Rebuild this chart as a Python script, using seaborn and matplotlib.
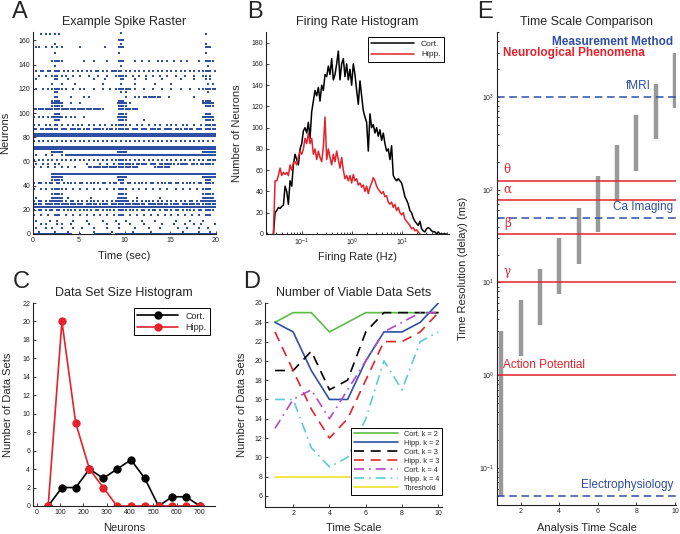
import numpy as np
import matplotlib
matplotlib.use("Agg")
import matplotlib.pyplot as plt
import seaborn as sns
from matplotlib.ticker import LogLocator, LogFormatterMathtext, NullFormatter, FixedLocator

# ---------------- data ----------------
# A: spike raster, one pattern per neuron; each char is a time bin over 0-20 s
# '.' = no spike, 'o' = one spike, '#' = two spikes
raster_rows = [
    (166, "...................." "..................o." "...................." "...................."),
    (165, "...o.o.o.o.o........" "...................." "...................." "...............o...."),
    (160, "...................." ".................ooo" "...................." "...................."),
    (157, ".........o.........." "..................o." "...................." "...............o...."),
    (155, ".oo..o..o.o.o......." "o..........o.....ooo" "...................." "...............ooo.."),
    (150, ".........o.........." ".................o.." "...................." "...............o...."),
    (143, "........ooooo......." "..o...o.....o....ooo" "....o..o..o...o.o.o." ".o..o..o....o..oooo."),
    (139, ".........o.........." "..................o." "...................." "................o..."),
    (135, ".o.oo.oo.ooo.o.o.o.o" ".o.o.o.oo.o.o.ooooo." "o.o.o.o.o.o.o.o.o.o." "o.o.o.o.o.o.o.oooo.o"),
    (131, "..o..o..ooo.o.o..o.." "o...o...o...o...oooo" "o..o..o..o..o..o..o." "..o...o...o...oo.o.."),
    (128, ".o.......oo....o...." "......o....o......oo" "....o....o......o..." "....o.....o....o.o.."),
    (124, "........o...o.....o." "..........o.......o." "....o........o......" "o...............o.o."),
    (120, ".o..o.o.ooooo.o..o.." "o.o...o...o..o..oooo" "ooo.o...o...o...o..." "o...o...o...o.oooooo"),
    (117, ".........oo........." "..................o." "o..................." "................o..."),
    (113, ".........oo.....o..." "..o.o..............." "o...o.o.oooooooo...o" "..........o........."),
    (110, "........oooo........" ".................ooo" "...................." "..............oooo.."),
    (108, "........#####...o..." "o................###" "#.o................." "..............#####."),
    (106, "........ooooo......." ".................ooo" "o..................." "...............oooo."),
    (103, "oooooooooooooooooooo" "ooooooooooo......ooo" "oooooo.............." "...................."),
    (99, ".........ooo........" ".................ooo" "o..................." "...............ooo.."),
    (97, "o.o.o.o.#####.o.o.o." "..o..............###" "#..................." "..............#####."),
    (94, ".........ooo........" ".................ooo" "o.......o..........." "...............oooo."),
    (90, "o.o..o.o.oo.o..o.o.o" ".o..o.o..o.o..o.oooo" "o.o..o.o..o..o.o..o." "o.o..o.o..o..o.ooooo"),
    (87, "oo.oooooooo.ooo.oooo" "o.ooo.ooooo.ooo.oooo" "oo.ooo.ooo.ooooo.ooo" "o.ooo.oooo.ooo.ooooo"),
    (83, "####################" "####################" "####################" "####################"),
    (82, "####################" "####################" "####################" "####################"),
    (81, "####################" "####################" "####################" "####################"),
    (77, "o.o.o.o.o.o.o.o.o.o." "o.o.o.o.o.o.o.o.o.o." "o.o.o.o.o.o.o.o.o.o." "o.o.o.o.o.o.o.o.o.o."),
    (72, "####################" "####################" "####################" "####################"),
    (71, "####################" "####################" "####################" "####################"),
    (70, "####################" "####################" "####################" "####################"),
    (68, "........#####......." ".................###" "#..................." "..............######"),
    (65, ".o...o..o...o.######" "####################" "####################" "####################"),
    (61, "o.o.o.o.o.o.o.o.o.o." "o.o.o.o.o.o.o.o.oooo" "o.o.o.o.o.o.o.o.o.o." "o.o.o.o.o.o.o.o.oooo"),
    (58, ".o..o.o..o.o........" "...o.....o..o..o.ooo" "oooo.ooooo.ooo.ooooo" "oo.ooooo.ooo.oooooo."),
    (55, "o..o..o..o..o..o..o." "....oooooooooooooooo" "oooooo.......ooooooo" "...................."),
    (50, "........############" "####################" "####################" "####################"),
    (47, "........#####......." ".................###" "#..................." "..............######"),
    (45, "........ooooo......." ".................ooo" "...................." "...............ooo.."),
    (42, "o.oo.o.oo.oo.o.oo.o." "oo.o.oo.o.oo.o.oo.oo" ".oo.o.oo.o.oo.o.oo.o" "o.oo.o.oo.o.oo.oooo."),
    (37, "o..o.o..ooooo.o..o.." "o..o..o..o..o..o.ooo" "o..o..o..o..o..o..o." "..o..o..o..o..oooo.."),
    (33, "........ooooo......." ".................ooo" "o..................." "..............ooooo."),
    (30, ".o......#####..o...." ".....o...........###" "#....o.........o...." "..............#####."),
    (27, "o.oo.o.o#####.o.oo.o" ".o.o.oo.o.o.o.o.o###" "#o.o.o.o.oo.o.o.o.o." "o.o.o.o.oo.o.o######"),
    (25, "oooo.ooooooooooooooo" "oo.ooooo.oooo.oooooo" "ooooooooo.ooooooooo." "oooo.oooooooo.oooooo"),
    (22, "######o#############" "#o####o####o####o###" "####o####o####o#####" "##o####o####o#######"),
    (20, "o.oo.o.oo.oo.o.oo.o." "o.oo.o.oo.o.oo.o.ooo" "o.oo.o.oo.o.oo.o.oo." "o.oo.o.oo.o.oo.oooo."),
    (16, "o..o..o..ooo..o..o.." "o..o..o..o..o..o.ooo" "..o..o..o..o..o..o.." "o..o..o..o..o..ooo.."),
    (11, ".o.....o..o......o.." "...o......o.....o..." "o......o.....o......" "..o.....o.....o....."),
    (8, "...o.o....o.o...o..." "....o.......o....o.." "..o.....o.......o..." ".o....o...o..o.....o"),
    (5, ".o...o..o...o....o.." ".o....o.....o....o.." "....o.....o....o...." "...o...o....o...o..."),
    (2, "..o......o.....o...." "......o.......o....." "...o.......o........" ".....o......o....o.."),
    (0, "#################..." "o......#######..####" "####################" "####################"),
]

# B: firing rate histogram (log-spaced bins)
rate_log_start, rate_log_step = -1.573, 0.0333
cort_rate_counts = [0, 20, 22, 25, 24, 26, 27, 45, 40, 28, 50, 45, 65, 75, 70, 65, 80, 85, 97, 100,
                    95, 105, 90, 115, 125, 135, 130, 138, 125, 140, 135, 150, 148, 158, 150, 165, 145,
                    150, 160, 172, 145, 160, 165, 148, 160, 145, 155, 140, 160, 150, 135, 122, 144,
                    130, 116, 110, 105, 78, 113, 100, 103, 95, 100, 92, 98, 88, 95, 85, 78, 80, 70,
                    83, 55, 52, 50, 52, 50, 48, 42, 35, 32, 28, 22, 20, 15, 12, 10, 8, 12, 5, 3, 2,
                    5, 6, 5, 3, 2, 2, 0, 2, 0, 0, 0, 0, 0]
hipp_rate_counts = [0, 50, 50, 55, 62, 55, 58, 56, 58, 55, 65, 60, 67, 68, 65, 72, 78, 75, 80, 90,
                    85, 95, 85, 90, 75, 80, 70, 78, 72, 68, 82, 110, 70, 80, 72, 65, 75, 68, 78, 70,
                    62, 72, 60, 52, 55, 50, 55, 48, 56, 50, 52, 46, 48, 44, 46, 40, 45, 38, 44, 48,
                    53, 50, 45, 42, 40, 38, 40, 35, 36, 30, 28, 30, 25, 28, 22, 25, 20, 18, 20, 14,
                    12, 10, 8, 5, 6, 3, 4, 2, 0]

# C: data set size histogram
size_neurons = [50, 109, 168, 227, 286, 345, 405, 464, 523, 582, 641, 700]
cort_sets = [0, 2, 2, 4, 3, 4, 5, 3, 0, 1, 1, 0]
hipp_sets = [0, 20, 9, 4, 2, 0, 0, 0, 0, 0, 0, 0]

# D: number of viable data sets
time_scale = [1, 2, 3, 4, 5, 6, 7, 8, 9, 10]
cort_k2 = [24, 25, 25, 23, 24, 25, 25, 25, 25, 25]
hipp_k2 = [24, 23, 19, 16, 16, 20, 23, 23, 24, 26]
cort_k3 = [19, 19, 21, 17, 18, 23, 25, 25, 25, 25]
hipp_k3 = [23, 19, 15, 12, 14, 18, 22, 22, 23, 25]
cort_k4 = [13, 16, 17, 14, 17, 20, 23, 24, 25, 25]
hipp_k4 = [16, 16, 11, 9, 10, 14, 20, 17, 22, 23]
threshold = [8, 8, 8, 8, 8, 8, 8, 8, 8, 8]
d_labels = ["Cort. k = 2", "Hipp. k = 2", "Cort. k = 3", "Hipp. k = 3",
            "Cort. k = 4", "Hipp. k = 4", "Threshold"]

# E: time scale comparison (ms)
analysis_scale = [1, 2, 3, 4, 5, 6, 7, 8, 9, 10]
res_low = [0.05, 1.6, 3.5, 7.6, 16, 35, 76, 160, 350, 750]
res_high = [3.0, 6.4, 14, 30, 64, 139, 300, 640, 1370, 3000]
phenomena = ["\u03b8", "\u03b1", "\u03b2", "\u03b3", "Action Potential"]
phenomena_ms = [125, 77, 33, 10, 1]
methods = ["fMRI", "Ca Imaging", "Electrophysiology"]
methods_ms = [1000, 50, 0.05]

# ---------------- style ----------------
sns.set_theme(style="ticks")
plt.rcParams['font.family'] = ['Liberation Sans', 'DejaVu Sans']
plt.rcParams['mathtext.default'] = 'regular'
plt.rcParams['axes.linewidth'] = 0.8
plt.rcParams['axes.edgecolor'] = '#222222'

BLUE = '#2E4FA3'
RED = '#E3222B'
W, H = 680, 534


def px_box(l, t, r, b):
    return [l / W, 1 - b / H, (r - l) / W, (b - t) / H]


def style_axes(ax):
    sns.despine(ax=ax)
    ax.tick_params(which='both', direction='in', labelsize=5, pad=2, width=0.6, colors='#222222')
    ax.tick_params(which='major', length=2.5)
    ax.tick_params(which='minor', length=1.5)


fig = plt.figure(figsize=(6.8, 5.34), dpi=100)
fig.patch.set_facecolor('white')

# ---------------- A ----------------
axA = fig.add_axes(px_box(33, 32, 216, 234))
spike_t, spike_n = [], []
for n, pat in raster_rows:
    w = 20.0 / len(pat)
    for i, c in enumerate(pat):
        offs = [0.5] if c == 'o' else ([0.25, 0.75] if c == '#' else [])
        for o in offs:
            spike_t.append((i + o) * w)
            spike_n.append(n)
sns.scatterplot(x=spike_t, y=spike_n, ax=axA, s=2.5, marker='s', color=BLUE,
                linewidth=0, legend=False)
axA.set_xlim(0, 20)
axA.set_ylim(0, 167)
axA.set_xticks([0, 5, 10, 15, 20])
axA.set_yticks(range(0, 161, 20))
axA.set_title("Example Spike Raster", fontsize=9, pad=5)
axA.set_xlabel("Time (sec)", fontsize=8)
axA.set_ylabel("Neurons", fontsize=8)
axA.xaxis.set_label_coords(0.5, -0.083)
axA.yaxis.set_label_coords(-0.123, 0.5)
style_axes(axA)

# ---------------- B ----------------
axB = fig.add_axes(px_box(266, 32, 449, 234))
axB.set_xscale('log')
cort_f = np.logspace(rate_log_start, rate_log_start + rate_log_step * (len(cort_rate_counts) - 1),
                     len(cort_rate_counts))
hipp_f = cort_f[:len(hipp_rate_counts)]
sns.lineplot(x=cort_f, y=cort_rate_counts, ax=axB, color='black', linewidth=1.1, label="Cort.")
sns.lineplot(x=hipp_f, y=hipp_rate_counts, ax=axB, color=RED, linewidth=1.1, label="Hipp.")
axB.set_xlim(0.019, 87)
axB.set_ylim(0, 190)
axB.set_yticks(range(0, 181, 20))
axB.xaxis.set_major_locator(FixedLocator([0.1, 1, 10]))
axB.xaxis.set_major_formatter(LogFormatterMathtext())
axB.xaxis.set_minor_locator(LogLocator(base=10, subs=np.arange(2, 10)))
axB.xaxis.set_minor_formatter(NullFormatter())
axB.set_title("Firing Rate Histogram", fontsize=9, pad=5)
axB.set_xlabel("Firing Rate (Hz)", fontsize=8)
axB.set_ylabel("Number of Neurons", fontsize=8)
axB.xaxis.set_label_coords(0.5, -0.088)
axB.yaxis.set_label_coords(-0.133, 0.5)
style_axes(axB)
legB = axB.legend(loc='upper right', fontsize=6, frameon=True, fancybox=False, framealpha=1,
                  edgecolor='black', handlelength=5.2, borderaxespad=0.6, borderpad=0.4,
                  labelspacing=0.3)
legB.get_frame().set_linewidth(0.7)

# ---------------- C ----------------
axC = fig.add_axes(px_box(33, 303, 215, 506))
sns.lineplot(x=size_neurons, y=cort_sets, ax=axC, color='black', linewidth=1.2, marker='o',
             markersize=6, markeredgewidth=0, label="Cort.")
sns.lineplot(x=size_neurons, y=hipp_sets, ax=axC, color=RED, linewidth=1.2, marker='o',
             markersize=6, markeredgewidth=0, label="Hipp.")
axC.set_xlim(-15, 765)
axC.set_ylim(0, 22)
axC.set_xticks(range(0, 701, 100))
axC.set_yticks(range(0, 23, 2))
axC.set_title("Data Set Size Histogram", fontsize=9, pad=5)
axC.set_xlabel("Neurons", fontsize=8)
axC.set_ylabel("Number of Data Sets", fontsize=8)
axC.xaxis.set_label_coords(0.5, -0.084)
axC.yaxis.set_label_coords(-0.108, 0.5)
style_axes(axC)
legC = axC.legend(loc='upper right', fontsize=6.5, frameon=True, fancybox=False, framealpha=1,
                  edgecolor='black', handlelength=4.5, borderaxespad=0.6, borderpad=0.35,
                  labelspacing=0.25)
legC.get_frame().set_linewidth(0.7)

# ---------------- D ----------------
axD = fig.add_axes(px_box(265, 303, 442, 507))
d_series = [cort_k2, hipp_k2, cort_k3, hipp_k3, cort_k4, hipp_k4, threshold]
d_colors = ['#5DBB48', BLUE, 'black', RED, '#B548C6', '#5CCBD6', '#EEE22A']
d_styles = ['-', '-', (0, (6, 4)), (0, (6, 4)), (0, (6, 3, 1, 3)), (0, (6, 3, 1, 3)), '-']
for vals, lab, col, ls in zip(d_series, d_labels, d_colors, d_styles):
    sns.lineplot(x=time_scale, y=vals, ax=axD, color=col, linestyle=ls, linewidth=1.2, label=lab)
axD.set_xlim(0.45, 10.2)
axD.set_ylim(4.85, 26)
axD.set_xticks([2, 4, 6, 8, 10])
axD.set_yticks(range(6, 27, 2))
axD.set_title("Number of Viable Data Sets", fontsize=9, pad=5)
axD.set_xlabel("Time Scale", fontsize=8)
axD.set_ylabel("Number of Data Sets", fontsize=8)
axD.xaxis.set_label_coords(0.5, -0.08)
axD.yaxis.set_label_coords(-0.103, 0.5)
style_axes(axD)
legD = axD.legend(loc='lower right', fontsize=5.3, frameon=True, fancybox=False, framealpha=1,
                  edgecolor='black', handlelength=6, borderaxespad=0.0, borderpad=0.4,
                  labelspacing=0.25, bbox_to_anchor=(1.0, 0.06))
legD.get_frame().set_linewidth(0.7)

# ---------------- E ----------------
axE = fig.add_axes(px_box(497, 32, 676, 505))
axE.set_yscale('log')
axE.vlines(analysis_scale, res_low, res_high, color='#999999', linewidth=3.2, zorder=1)
for name, ms in zip(phenomena, phenomena_ms):
    axE.axhline(ms, color=RED, linewidth=1.1, zorder=2)
    if len(name) == 1:
        axE.text(1.12, ms * 1.12, name, color=RED, fontsize=8.5, family=['DejaVu Serif'],
                 ha='left', va='bottom')
    else:
        axE.text(1.07, ms * 1.12, name, color=RED, fontsize=8.5, ha='left', va='bottom')
for name, ms in zip(methods, methods_ms):
    axE.axhline(ms, color=BLUE, linewidth=1.1, linestyle=(0, (5, 3)), zorder=2)
x_right = {"fMRI": 8.75, "Ca Imaging": 9.9, "Electrophysiology": 9.9}
for name, ms in zip(methods, methods_ms):
    axE.text(x_right[name], ms * 1.12, name, color=BLUE, fontsize=8.5, ha='right', va='bottom')
axE.text(9.9, 3900, "Measurement Method", color=BLUE, fontsize=8.5, fontweight='bold',
         ha='right', va='center')
axE.text(1.1, 2950, "Neurological Phenomena", color=RED, fontsize=8.5, fontweight='bold',
         ha='left', va='center')
axE.set_xlim(0.77, 10.05)
axE.set_ylim(0.04, 5000)
axE.set_xticks([2, 4, 6, 8, 10])
axE.yaxis.set_major_locator(FixedLocator([0.1, 1, 10, 100, 1000]))
axE.yaxis.set_major_formatter(LogFormatterMathtext())
axE.yaxis.set_minor_locator(LogLocator(base=10, subs=np.arange(2, 10)))
axE.yaxis.set_minor_formatter(NullFormatter())
axE.set_title("Time Scale Comparison", fontsize=9, pad=5)
axE.set_xlabel("Analysis Time Scale", fontsize=8)
axE.set_ylabel("Time Resolution (delay) (ms)", fontsize=8)
axE.xaxis.set_label_coords(0.5, -0.039)
axE.yaxis.set_label_coords(-0.16, 0.5)
style_axes(axE)

# panel letters
for letter, x, y in [("A", 12, 18.5), ("B", 247, 18.5), ("C", 13, 288), ("D", 243, 288),
                     ("E", 477, 18.5)]:
    fig.text(x / W, 1 - y / H, letter, fontsize=17, ha='left', va='baseline')

fig.savefig("out.png", dpi=100)
